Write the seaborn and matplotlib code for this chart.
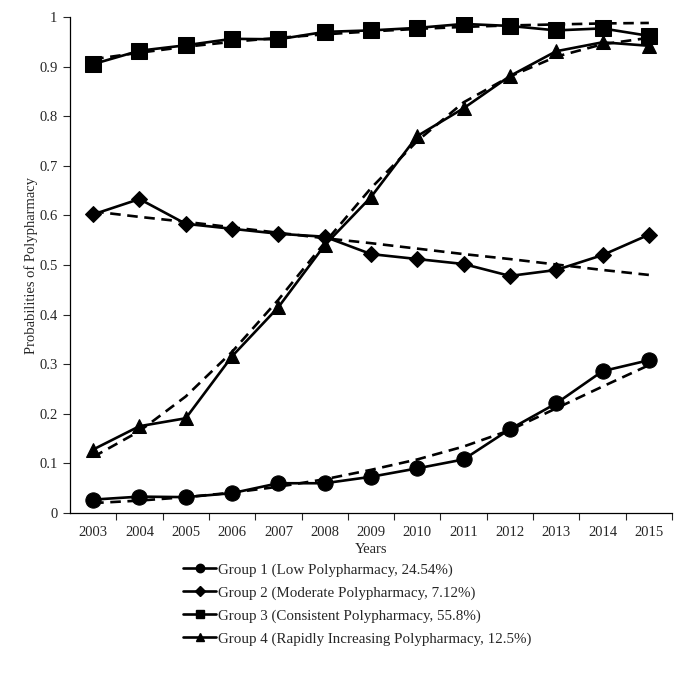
import matplotlib
matplotlib.use("Agg")
import matplotlib.pyplot as plt
import seaborn as sns
import pandas as pd
import numpy as np
from matplotlib.ticker import FixedLocator

years = list(range(2003, 2016))

g1_obs = [0.027, 0.033, 0.032, 0.040, 0.060, 0.060, 0.073, 0.090, 0.108, 0.169, 0.221, 0.286, 0.308]
g1_fit = [0.020, 0.025, 0.032, 0.041, 0.053, 0.068, 0.087, 0.108, 0.134, 0.167, 0.211, 0.255, 0.298]

g2_obs = [0.602, 0.633, 0.583, 0.573, 0.563, 0.557, 0.522, 0.512, 0.502, 0.478, 0.490, 0.520, 0.561]
g2_fit = [0.608, 0.597, 0.587, 0.576, 0.565, 0.554, 0.544, 0.533, 0.522, 0.512, 0.501, 0.490, 0.480]

g3_obs = [0.905, 0.932, 0.943, 0.956, 0.955, 0.970, 0.973, 0.978, 0.986, 0.982, 0.973, 0.977, 0.962]
g3_fit = [0.915, 0.928, 0.940, 0.950, 0.958, 0.965, 0.971, 0.976, 0.980, 0.983, 0.985, 0.987, 0.988]

g4_obs = [0.128, 0.175, 0.191, 0.316, 0.415, 0.540, 0.637, 0.760, 0.816, 0.881, 0.931, 0.949, 0.942]
g4_fit = [0.113, 0.165, 0.235, 0.325, 0.430, 0.545, 0.655, 0.750, 0.828, 0.880, 0.920, 0.945, 0.958]

labels = ["Group 1 (Low Polypharmacy, 24.54%)",
          "Group 2 (Moderate Polypharmacy, 7.12%)",
          "Group 3 (Consistent Polypharmacy, 55.8%)",
          "Group 4 (Rapidly Increasing Polypharmacy, 12.5%)"]
markers = ["o", "D", "s", "^"]
msizes = [11, 8.5, 11, 10]

obs = [g1_obs, g2_obs, g3_obs, g4_obs]
fits = [g1_fit, g2_fit, g3_fit, g4_fit]

sns.set_theme(style="white")
plt.rcParams['font.family'] = ['Liberation Serif', 'DejaVu Serif']

fig = plt.figure(figsize=(6.89, 6.81), dpi=100)
ax = fig.add_axes([70/689, 1-513/681, (672-70)/689, (513-17)/681])

handles = []
for lab, m, ms, o, f in zip(labels, markers, msizes, obs, fits):
    df = pd.DataFrame({"Year": years, "obs": o, "fit": f})
    sns.lineplot(data=df, x="Year", y="fit", ax=ax, color="black", lw=1.9,
                 linestyle=(0, (4, 2.5)), legend=False)
    sns.lineplot(data=df, x="Year", y="obs", ax=ax, color="black", lw=1.9,
                 marker=m, markersize=ms, markeredgecolor="black", legend=False)
    handles.append(plt.Line2D([], [], color="black", lw=1.9, marker=m,
                              markersize=ms*0.55, label=lab))

ax.set_xlim(2002.5, 2015.5)
ax.set_ylim(0, 1)
ax.set_yticks(np.round(np.arange(0, 1.01, 0.1), 1))
ax.set_yticklabels(["0"] + [f"{v:.1f}" for v in np.arange(0.1, 0.95, 0.1)] + ["1"])
ax.set_xticks(years)
ax.set_xticklabels([str(y) for y in years])
ax.xaxis.set_minor_locator(FixedLocator([y + 0.5 for y in years]))
ax.tick_params(axis="x", which="major", length=0, pad=9, labelsize=10.5)
ax.tick_params(axis="x", which="minor", length=5, width=0.8, direction="out", bottom=True)
ax.tick_params(axis="y", which="major", length=5, width=0.8, direction="out", left=True, labelsize=10.5, pad=4)
for s in ["top", "right"]:
    ax.spines[s].set_visible(False)
for s in ["left", "bottom"]:
    ax.spines[s].set_color("black")
    ax.spines[s].set_linewidth(0.9)
ax.set_xlabel("Years", fontsize=10.5, labelpad=3)
ax.set_ylabel("Probabilities of Polypharmacy", fontsize=10.5, labelpad=1)

fig.legend(handles=handles, loc="upper left", bbox_to_anchor=(183/689, 1-563/681),
           frameon=False, fontsize=10.8, handlelength=2.2, handletextpad=0.1,
           labelspacing=0.62, borderpad=0, borderaxespad=0)

fig.savefig("out.png", dpi=100)
